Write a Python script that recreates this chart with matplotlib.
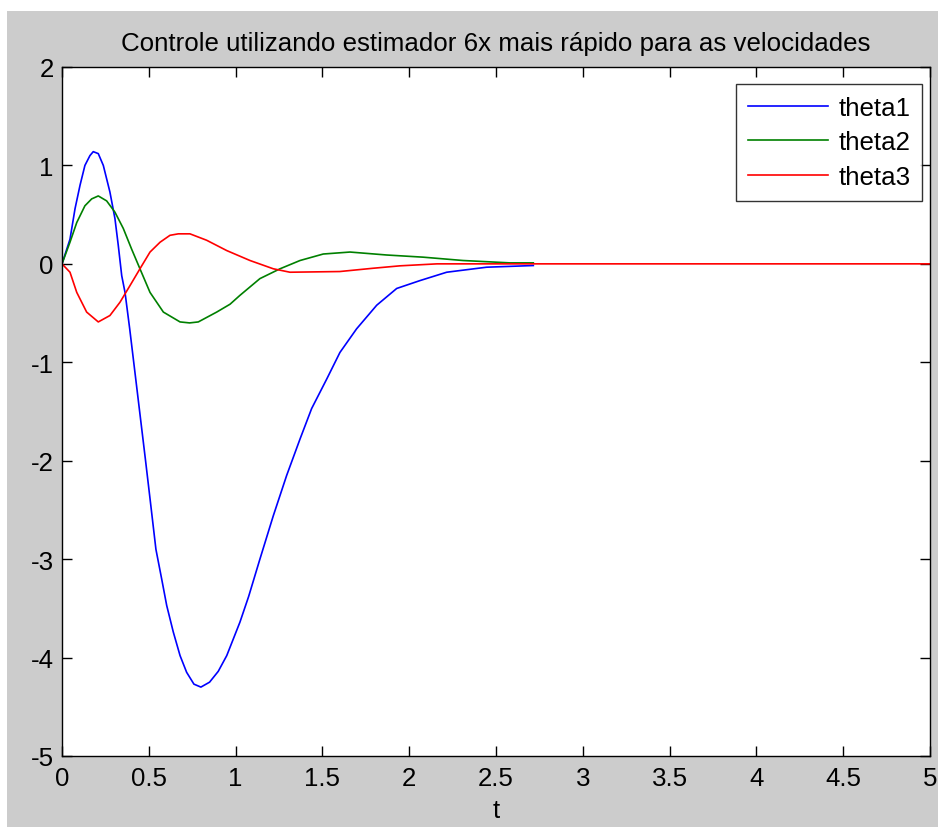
import matplotlib
matplotlib.use('Agg')
import matplotlib.pyplot as plt
from matplotlib.patches import Rectangle

# values
t1 = [0, 0.046, 0.075, 0.104, 0.132, 0.161, 0.18, 0.209, 0.238, 0.276, 0.305, 0.324,
      0.344, 0.363, 0.390, 0.420, 0.450, 0.480, 0.510, 0.541, 0.574, 0.603, 0.641,
      0.68, 0.718, 0.76, 0.80, 0.85, 0.90, 0.949, 1.025, 1.075, 1.14, 1.217, 1.294,
      1.371, 1.438, 1.525, 1.601, 1.697, 1.813, 1.928, 2.062, 2.216, 2.446, 2.715]
theta1 = [0, 0.25, 0.56, 0.80, 1.00, 1.10, 1.14, 1.12, 1.00, 0.73, 0.46, 0.19,
          -0.12, -0.29, -0.66, -1.10, -1.54, -1.98, -2.43, -2.90, -3.20, -3.47, -3.74,
          -3.98, -4.15, -4.27, -4.30, -4.25, -4.14, -3.98, -3.64, -3.38, -3.00, -2.56, -2.15,
          -1.78, -1.47, -1.17, -0.90, -0.66, -0.42, -0.25, -0.17, -0.085, -0.034, -0.017]

t2 = [0, 0.046, 0.085, 0.132, 0.171, 0.209, 0.257, 0.305, 0.353, 0.401, 0.449, 0.507,
      0.584, 0.68, 0.735, 0.785, 0.891, 0.968, 1.025, 1.14, 1.256, 1.371, 1.505,
      1.659, 1.87, 2.08, 2.31, 2.58, 2.715]
theta2 = [0, 0.22, 0.42, 0.59, 0.66, 0.69, 0.64, 0.525, 0.36, 0.15, -0.05, -0.29,
          -0.49, -0.59, -0.60, -0.59, -0.49, -0.41, -0.32, -0.15, -0.05, 0.034, 0.10,
          0.12, 0.09, 0.068, 0.034, 0.01, 0.01]

t3 = [0, 0.046, 0.085, 0.142, 0.209, 0.276, 0.334, 0.392, 0.449, 0.507, 0.565, 0.622,
      0.67, 0.737, 0.833, 0.949, 1.083, 1.217, 1.313, 1.60, 1.79, 1.947, 2.16, 5.0]
theta3 = [0, -0.085, -0.29, -0.49, -0.59, -0.525, -0.39, -0.22, -0.05, 0.12, 0.22, 0.29,
          0.305, 0.305, 0.24, 0.135, 0.034, -0.05, -0.085, -0.078, -0.045, -0.02, 0.0, 0.0]

labels = ['theta1', 'theta2', 'theta3']
xticks = [0, 0.5, 1, 1.5, 2, 2.5, 3, 3.5, 4, 4.5, 5]
xticklabels = ['0', '0.5', '1', '1.5', '2', '2.5', '3', '3.5', '4', '4.5', '5']
yticks = [-5, -4, -3, -2, -1, 0, 1, 2]
title = 'Controle utilizando estimador 6x mais rápido para as velocidades'

plt.rcParams['font.family'] = ['Liberation Sans', 'DejaVu Sans']
plt.rcParams['axes.unicode_minus'] = False
fs = 18.6

fig = plt.figure(figsize=(9.38, 8.28), dpi=100, facecolor='white')
# grey window area, white strip on top and left like the screenshot
bg = Rectangle((7 / 938, 0), 1, 1 - 12 / 828, transform=fig.transFigure,
               facecolor='#cccccc', edgecolor='none', zorder=-10)
fig.patches.append(bg)

ax = fig.add_axes([62 / 938, 71 / 828, 868 / 938, 689 / 828])
ax.set_facecolor('white')

ax.plot(t1, theta1, color='#0000ff', lw=1.2, label=labels[0])
ax.plot(t2, theta2, color='#008000', lw=1.2, label=labels[1])
ax.plot(t3, theta3, color='#ff0000', lw=1.2, label=labels[2])

ax.set_xlim(0, 5)
ax.set_ylim(-5, 2)
ax.set_xticks(xticks)
ax.set_xticklabels(xticklabels)
ax.set_yticks(yticks)
ax.tick_params(direction='in', length=7, width=1, top=True, right=True,
               labelsize=fs, colors='black')
ax.tick_params(axis='x', pad=7)
ax.tick_params(axis='y', pad=6)
for sp in ax.spines.values():
    sp.set_linewidth(1.0)

ax.set_xlabel('t', fontsize=fs, labelpad=6)
ax.set_title(title, fontsize=fs, pad=12)

leg = ax.legend(loc='upper right', bbox_to_anchor=(0.9908, 0.9753), borderaxespad=0,
                fontsize=fs, frameon=True, fancybox=False, handlelength=3.1,
                handletextpad=0.4, labelspacing=0.42, borderpad=0.45)
leg.get_frame().set_edgecolor('black')
leg.get_frame().set_linewidth(1.0)

fig.savefig('out.png', dpi=100, facecolor=fig.get_facecolor())
